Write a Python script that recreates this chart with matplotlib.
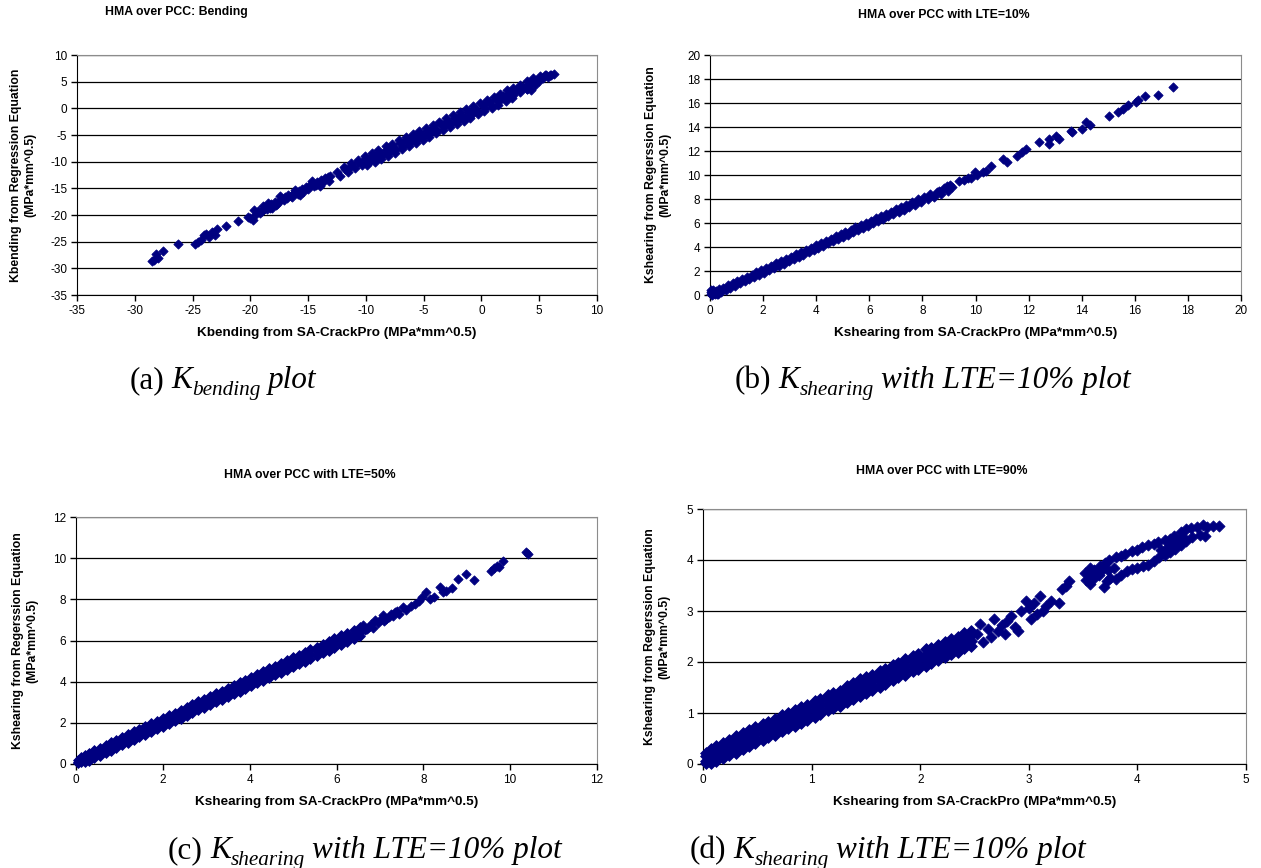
import matplotlib
matplotlib.use("Agg")
import matplotlib.pyplot as plt
import numpy as np

# values (regression vs SA-CrackPro)

# (a) bending
a_sparse_x = [-28.5, -28.3, -28.2, -28.0, -27.6, -26.3, -24.8, -24.5, -24.3, -24.0, -23.8, -23.6, -23.3, -23.1, -22.9,
              -22.1, -21.1, -20.2, -20.0, -19.8, -19.7, -19.5, -19.3, -19.2, -19.0, -18.9, -18.8, -18.6, -18.5, -18.3,
              -18.2, -18.1, -17.9, -17.8, -17.7, -17.6, -17.4, -17.3, -17.1, -17.0, -16.8, -16.7, -16.5, -16.4, -16.2,
              -16.1, -15.9, -15.8, -15.7, -15.5, -15.4, -15.2, -15.0, -14.9, -14.7, -14.6, -14.5, -14.3, -14.2, -14.0,
              -13.9, -13.8, -13.6, -13.5, -13.3, -13.2, 3.9, 4.3, 4.5, 5.0, 5.5, 5.8, 6.0]
a_sparse_y = [-28.7, -28.4, -27.3, -28.1, -26.8, -25.4, -25.4, -25.0, -24.7, -23.7, -23.5, -24.1, -23.2, -23.8, -22.6,
              -22.0, -21.2, -20.3, -20.6, -20.9, -19.0, -19.8, -19.3, -19.7, -19.3, -18.4, -18.9, -18.9, -17.8, -18.6,
              -17.9, -18.7, -17.6, -18.1, -18.0, -17.5, -16.5, -17.0, -17.2, -16.6, -16.9, -16.3, -16.4, -16.7, -15.8,
              -15.3, -16.1, -15.5, -16.2, -15.1, -15.6, -14.7, -15.2, -14.6, -13.7, -14.1, -14.6, -14.3, -13.8, -14.5,
              -13.4, -14.0, -13.5, -13.1, -12.8, -13.6, 3.6, 3.5, 5.4, 5.2, 6.2, 5.9, 6.2]
a_mid_x = [-13.1, -12.5, -11.85, -11.3, -10.65, -10.05, -9.45, -8.9, -8.25, -7.7, -7.05, -6.5, -5.9, -5.3, -4.7,
           -4.15, -3.5, -2.95, -2.3, -1.75, -1.1, -0.55, 0.1, 0.65, 1.25, 1.85, 2.4, 3.0, 3.6, 4.15, 4.8, 5.35, 5.9, 6.25]
a_mid_y = [-12.7, -12.0, -11.4, -10.8, -10.1, -9.55, -8.9, -8.4, -7.75, -7.2, -6.55, -6.0, -5.4, -4.8, -4.2,
           -3.65, -3.0, -2.45, -1.8, -1.25, -0.6, -0.05, 0.6, 1.15, 1.7, 2.3, 2.85, 3.45, 4.0, 4.5, 5.2, 5.75, 6.2, 6.4]
a_up_x = [-11.9, -11.3, -10.7, -10.1, -9.5, -8.95, -8.3, -7.75, -7.15, -6.55, -5.95, -5.4, -4.8, -4.2, -3.65,
          -3.05, -2.45, -1.85, -1.3, -0.7, -0.1, 0.45, 1.05, 1.6, 2.2, 2.75, 3.3, 3.9, 4.5, 5.1, 5.6]
a_up_y = [-11.0, -10.3, -9.6, -9.0, -8.4, -7.85, -7.15, -6.6, -6.0, -5.4, -4.8, -4.25, -3.65, -3.05, -2.5,
          -1.9, -1.3, -0.7, -0.15, 0.45, 1.05, 1.6, 2.2, 2.75, 3.35, 3.9, 4.45, 5.05, 5.6, 6.1, 6.3]
a_lo_x = [-12.2, -11.55, -10.95, -10.35, -9.75, -9.2, -8.6, -8.0, -7.4, -6.8, -6.2, -5.6, -5.05, -4.45, -3.85,
          -3.25, -2.65, -2.05, -1.45, -0.85, -0.3, 0.3, 0.9, 1.5, 2.1, 2.7, 3.3, 3.9, 4.6]
a_lo_y = [-12.6, -11.9, -11.2, -10.6, -10.0, -9.4, -8.8, -8.2, -7.6, -7.0, -6.35, -5.75, -5.2, -4.6, -4.0,
          -3.4, -2.8, -2.2, -1.6, -1.0, -0.45, 0.15, 0.7, 1.3, 1.9, 2.5, 3.05, 3.6, 4.3]
a_bot_x = [-9.9, -9.25, -8.7, -8.05, -7.5, -6.85, -6.3, -5.7, -5.1, -4.55, -3.9, -3.35, -2.7, -2.15, -1.5,
           -0.95, -0.3, 0.25, 0.9, 1.45, 2.1, 2.65]
a_bot_y = [-10.6, -10.0, -9.5, -8.85, -8.3, -7.65, -7.1, -6.5, -5.9, -5.35, -4.7, -4.15, -3.5, -2.95, -2.3,
           -1.75, -1.1, -0.55, 0.1, 0.65, 1.3, 1.85]

# (b) LTE = 10%
b_up_x = [0.03, 0.12, 0.22, 0.35, 0.5, 0.68, 0.85, 1.02, 1.2, 1.38, 1.57, 1.75, 1.93, 2.12, 2.3, 2.5, 2.68,
          2.87, 3.05, 3.24, 3.42, 3.61, 3.8, 3.98, 4.17, 4.36, 4.55, 4.73, 4.92, 5.1, 5.3, 5.48, 5.67, 5.86,
          6.05, 6.24, 6.43, 6.62, 6.8, 7.0, 7.2, 7.4, 7.62, 7.85, 8.05, 8.3, 8.55, 8.8, 9.05]
b_up_y = [0.25, 0.38, 0.33, 0.52, 0.62, 0.8, 0.98, 1.15, 1.33, 1.52, 1.7, 1.88, 2.06, 2.26, 2.44, 2.64, 2.82,
          3.0, 3.2, 3.38, 3.57, 3.76, 3.94, 4.13, 4.32, 4.5, 4.7, 4.88, 5.07, 5.25, 5.45, 5.63, 5.82, 6.0,
          6.2, 6.38, 6.57, 6.77, 6.95, 7.14, 7.32, 7.52, 7.74, 7.98, 8.2, 8.42, 8.62, 8.9, 9.2]
b_lo_x = [0.08, 0.18, 0.3, 0.42, 0.6, 0.77, 0.95, 1.12, 1.3, 1.48, 1.66, 1.85, 2.03, 2.22, 2.4, 2.6, 2.78,
          2.97, 3.15, 3.34, 3.52, 3.71, 3.9, 4.08, 4.27, 4.46, 4.65, 4.83, 5.02, 5.2, 5.4, 5.58, 5.77, 5.96,
          6.15, 6.34, 6.53, 6.72, 6.9, 7.1, 7.3, 7.5, 7.72, 7.95, 8.2, 8.45, 8.7, 8.95]
b_lo_y = [0.02, 0.05, 0.1, 0.25, 0.42, 0.6, 0.78, 0.96, 1.14, 1.32, 1.5, 1.68, 1.87, 2.05, 2.24, 2.43, 2.62,
          2.8, 3.0, 3.18, 3.36, 3.55, 3.74, 3.92, 4.1, 4.3, 4.48, 4.67, 4.86, 5.04, 5.23, 5.42, 5.6, 5.79,
          5.98, 6.17, 6.36, 6.55, 6.74, 6.93, 7.12, 7.3, 7.5, 7.72, 7.98, 8.2, 8.45, 8.7]
b_sparse_x = [0.02, 0.05, 0.15, 0.25, 8.62, 8.92, 9.37, 9.82, 9.97, 10.27, 10.57, 11.02, 11.17, 11.55, 11.77,
              11.92, 12.38, 12.75, 12.75, 13.05, 13.13, 13.58, 13.65, 14.03, 14.18, 14.33, 15.04, 15.38, 15.56,
              15.76, 16.03, 16.13, 16.39, 16.86, 17.44, 9.1, 9.55, 9.7, 10.05, 10.4]
b_sparse_y = [0.1, 0.4, 0.2, 0.05, 8.67, 9.09, 9.51, 9.79, 10.21, 10.21, 10.77, 11.33, 11.05, 11.61, 11.89,
              12.17, 12.73, 12.59, 13.0, 13.29, 13.0, 13.7, 13.57, 13.85, 14.41, 14.13, 14.91, 15.24, 15.52,
              15.86, 16.08, 16.22, 16.56, 16.64, 17.34, 9.0, 9.6, 9.75, 10.0, 10.3]

# (c) LTE = 50%
c_core_x = [0.05, 0.12, 0.2, 0.3, 0.42, 0.55, 0.68, 0.8, 0.93, 1.06, 1.2, 1.33, 1.46, 1.6, 1.73, 1.87, 2.0,
            2.14, 2.27, 2.41, 2.55, 2.68, 2.82, 2.95, 3.09, 3.22, 3.36, 3.5, 3.63, 3.77, 3.9, 4.04, 4.18, 4.31,
            4.45, 4.58, 4.72, 4.86, 5.0, 5.13, 5.27, 5.4, 5.54, 5.68, 5.82, 5.95, 6.1, 6.25, 6.4, 6.55]
c_up_y = [0.2, 0.35, 0.45, 0.55, 0.68, 0.8, 0.93, 1.05, 1.18, 1.31, 1.45, 1.58, 1.7, 1.84, 1.97, 2.1, 2.24,
          2.37, 2.5, 2.64, 2.78, 2.9, 3.04, 3.17, 3.3, 3.44, 3.57, 3.71, 3.84, 3.98, 4.1, 4.24, 4.38, 4.5,
          4.64, 4.77, 4.9, 5.04, 5.18, 5.3, 5.44, 5.57, 5.7, 5.84, 5.97, 6.1, 6.25, 6.38, 6.52, 6.66]
c_mid_y = [0.12, 0.2, 0.28, 0.35, 0.48, 0.6, 0.72, 0.85, 0.97, 1.1, 1.24, 1.37, 1.5, 1.63, 1.76, 1.89, 2.02,
           2.15, 2.29, 2.42, 2.56, 2.69, 2.82, 2.95, 3.08, 3.22, 3.35, 3.48, 3.61, 3.75, 3.88, 4.01, 4.15, 4.28,
           4.41, 4.54, 4.67, 4.81, 4.94, 5.07, 5.2, 5.34, 5.47, 5.6, 5.73, 5.87, 6.01, 6.15, 6.28, 6.43]
c_lo_y = [0.05, 0.08, 0.1, 0.15, 0.28, 0.4, 0.52, 0.64, 0.77, 0.9, 1.03, 1.16, 1.29, 1.42, 1.55, 1.68, 1.81,
          1.94, 2.07, 2.2, 2.34, 2.47, 2.6, 2.73, 2.86, 2.99, 3.12, 3.26, 3.39, 3.52, 3.65, 3.78, 3.92, 4.05,
          4.18, 4.31, 4.44, 4.58, 4.71, 4.84, 4.97, 5.1, 5.24, 5.37, 5.5, 5.63, 5.77, 5.92, 6.05, 6.2]
c_sparse_x = [6.62, 6.7, 6.8, 6.89, 6.95, 7.07, 7.15, 7.25, 7.35, 7.45, 7.53, 7.6, 7.71, 7.8, 7.9, 7.98, 8.07,
              8.15, 8.25, 8.39, 8.45, 8.53, 8.65, 8.8, 8.98, 9.16, 9.57, 9.62, 9.7, 9.75, 9.84, 10.37, 10.42,
              6.65, 6.75, 6.85, 7.0, 7.1, 7.2, 7.3, 7.4]
c_sparse_y = [6.74, 6.55, 6.8, 6.98, 6.85, 7.22, 7.05, 7.3, 7.38, 7.3, 7.62, 7.5, 7.7, 7.75, 7.9, 8.1, 8.34,
              8.0, 8.1, 8.58, 8.35, 8.42, 8.55, 8.98, 9.23, 8.94, 9.39, 9.5, 9.63, 9.55, 9.87, 10.3, 10.22,
              6.5, 6.68, 6.62, 7.0, 6.95, 7.15, 7.2, 7.45]

# (d) LTE = 90%
d_core_x = [0.03, 0.07, 0.12, 0.18, 0.24, 0.3, 0.37, 0.42, 0.48, 0.55, 0.6, 0.66, 0.73, 0.78, 0.85, 0.9, 0.96,
            1.03, 1.08, 1.15, 1.2, 1.26, 1.33, 1.38, 1.45, 1.5, 1.56, 1.63, 1.68, 1.75, 1.8, 1.86, 1.93, 1.98,
            2.05, 2.1, 2.16, 2.23, 2.28, 2.35, 2.4, 2.47]
d_row1_y = [0.22, 0.3, 0.36, 0.42, 0.47, 0.54, 0.6, 0.66, 0.72, 0.78, 0.83, 0.88, 0.96, 1.0, 1.06, 1.12, 1.16,
            1.24, 1.28, 1.36, 1.4, 1.44, 1.53, 1.58, 1.66, 1.7, 1.74, 1.82, 1.87, 1.94, 1.98, 2.05, 2.11, 2.16,
            2.25, 2.27, 2.33, 2.4, 2.45, 2.5, 2.56, 2.6]
d_row2_y = [0.15, 0.2, 0.25, 0.32, 0.38, 0.43, 0.5, 0.55, 0.61, 0.68, 0.72, 0.78, 0.85, 0.9, 0.96, 1.01, 1.06,
            1.13, 1.18, 1.25, 1.3, 1.35, 1.42, 1.47, 1.54, 1.59, 1.65, 1.72, 1.77, 1.85, 1.89, 1.95, 2.02, 2.07,
            2.14, 2.18, 2.24, 2.3, 2.35, 2.41, 2.46, 2.52]
d_row3_y = [0.05, 0.09, 0.15, 0.22, 0.28, 0.33, 0.4, 0.45, 0.51, 0.58, 0.62, 0.68, 0.75, 0.8, 0.86, 0.91, 0.96,
            1.03, 1.08, 1.15, 1.2, 1.25, 1.32, 1.37, 1.44, 1.49, 1.55, 1.62, 1.67, 1.75, 1.79, 1.85, 1.92, 1.97,
            2.04, 2.08, 2.14, 2.2, 2.25, 2.31, 2.36, 2.42]
d_row4_y = [0.02, 0.02, 0.05, 0.12, 0.18, 0.22, 0.3, 0.36, 0.41, 0.47, 0.53, 0.57, 0.64, 0.7, 0.75, 0.8, 0.87,
            0.92, 0.98, 1.05, 1.1, 1.14, 1.22, 1.27, 1.33, 1.4, 1.45, 1.51, 1.57, 1.64, 1.7, 1.74, 1.82, 1.87,
            1.93, 1.99, 2.03, 2.1, 2.15, 2.2, 2.27, 2.32]
d_sparse_x = [2.52, 2.55, 2.58, 2.62, 2.65, 2.68, 2.72, 2.75, 2.78, 2.8, 2.84, 2.87, 2.9, 2.93, 2.97, 3.0, 3.02,
              3.05, 3.08, 3.1, 3.13, 3.16, 3.2, 3.28, 3.31, 3.34, 3.37]
d_sparse_y = [2.55, 2.75, 2.4, 2.65, 2.5, 2.85, 2.6, 2.72, 2.55, 2.8, 2.9, 2.68, 2.6, 3.0, 3.2, 3.05, 2.85,
              3.15, 2.95, 3.3, 3.0, 3.1, 3.2, 3.15, 3.44, 3.5, 3.58]
d_upper_x = [3.52, 3.56, 3.6, 3.66, 3.7, 3.74, 3.8, 3.85, 3.89, 3.95, 4.0, 4.04, 4.1, 4.15, 4.19, 4.25, 4.3,
             4.34, 4.4, 4.45, 4.49, 4.55, 4.6, 4.64, 4.7, 4.75]
d_upper_y = [3.75, 3.85, 3.8, 3.88, 3.95, 4.0, 4.05, 4.08, 4.12, 4.17, 4.2, 4.25, 4.3, 4.32, 4.35, 4.4, 4.42,
             4.48, 4.55, 4.6, 4.62, 4.65, 4.68, 4.64, 4.67, 4.66]
d_lower_x = [3.53, 3.56, 3.6, 3.65, 3.69, 3.72, 3.75, 3.8, 3.85, 3.9, 3.95, 4.0, 4.05, 4.1, 4.15, 4.2, 4.25,
             4.3, 4.35, 4.4, 4.45, 4.5, 4.58, 4.62, 3.58, 3.63, 3.68, 3.73, 3.78, 4.22, 4.28, 4.33, 4.38, 4.42]
d_lower_y = [3.6, 3.52, 3.65, 3.7, 3.48, 3.58, 3.65, 3.62, 3.7, 3.78, 3.82, 3.85, 3.88, 3.9, 3.98, 4.05, 4.1,
             4.15, 4.22, 4.3, 4.38, 4.45, 4.5, 4.48, 3.68, 3.78, 3.82, 3.8, 3.85, 4.2, 4.25, 4.3, 4.38, 4.45]

plt.rcParams['font.family'] = ['Liberation Sans', 'DejaVu Sans']
plt.rcParams['axes.unicode_minus'] = False

W, H = 1261, 868
fig = plt.figure(figsize=(W / 100, H / 100), dpi=100)
NAVY = '#000080'


def panel(box, lim_x, lim_y, step, title, title_xy, xlabel, ylabel, ylabel_x):
    l, r, t, b = box
    ax = fig.add_axes([l / W, 1 - b / H, (r - l) / W, (b - t) / H])
    ax.set_xlim(lim_x)
    ax.set_ylim(lim_y)
    ax.set_xticks(np.arange(lim_x[0], lim_x[1] + step / 2, step))
    ax.set_yticks(np.arange(lim_y[0], lim_y[1] + step / 2, step))
    ax.yaxis.grid(True, color='black', linewidth=0.9)
    ax.set_axisbelow(True)
    for s in ['top', 'right']:
        ax.spines[s].set_color('#8c8c8c')
    for s in ['left', 'bottom']:
        ax.spines[s].set_color('black')
    ax.tick_params(direction='out', length=4, width=1, labelsize=8.5, pad=3)
    fig.text(title_xy[0] / W, 1 - title_xy[1] / H, title, ha='center', va='center',
             fontsize=8.8, fontweight='bold')
    fig.text((l + r) / 2 / W, 1 - (b + 38) / H, xlabel, ha='center', va='center',
             fontsize=9.7, fontweight='bold')
    fig.text(ylabel_x / W, 1 - (t + b) / 2 / H, ylabel, ha='center', va='center', rotation=90,
             multialignment='center', fontsize=8.8, fontweight='bold', linespacing=1.2)
    return ax


def dots(ax, x, y, size=22):
    ax.scatter(x, y, marker='D', s=size, color=NAVY, edgecolors=NAVY, linewidths=0.6,
               zorder=3, clip_on=False)


unit = '(MPa*mm^0.5)'
ax_a = panel((77, 597, 55, 295), (-35, 10), (-35, 10), 5, 'HMA over PCC: Bending', (176, 12),
             'Kbending from SA-CrackPro ' + unit, 'Kbending from Regression Equation\n' + unit, 23)
ax_b = panel((710, 1241, 55, 295), (0, 20), (0, 20), 2, 'HMA over PCC with LTE=10%', (944, 15),
             'Kshearing from SA-CrackPro ' + unit, 'Kshearing from Regerssion Equation\n' + unit, 658)
ax_c = panel((76, 597, 517, 764), (0, 12), (0, 12), 2, 'HMA over PCC with LTE=50%', (310, 475),
             'Kshearing from SA-CrackPro ' + unit, 'Kshearing from Regerssion Equation\n' + unit, 25)
ax_d = panel((703, 1246, 509, 764), (0, 5), (0, 5), 1, 'HMA over PCC with LTE=90%', (942, 471),
             'Kshearing from SA-CrackPro ' + unit, 'Kshearing from Regerssion Equation\n' + unit, 657)

dots(ax_a, a_sparse_x, a_sparse_y)
dots(ax_a, a_mid_x, a_mid_y)
dots(ax_a, a_up_x, a_up_y)
dots(ax_a, a_lo_x, a_lo_y)
dots(ax_a, a_bot_x, a_bot_y)

dots(ax_b, b_up_x, b_up_y)
dots(ax_b, b_lo_x, b_lo_y)
dots(ax_b, b_sparse_x, b_sparse_y)

for row in [c_up_y, c_mid_y, c_lo_y]:
    dots(ax_c, c_core_x, row, 25)
dots(ax_c, c_sparse_x, c_sparse_y)

for row in [d_row1_y, d_row2_y, d_row3_y, d_row4_y]:
    dots(ax_d, d_core_x, row, 36)
dots(ax_d, d_sparse_x, d_sparse_y, 32)
dots(ax_d, d_upper_x, d_upper_y, 32)
dots(ax_d, d_lower_x, d_lower_y, 32)

# captions under each chart: "(a) K_bending plot" etc, built piece by piece
renderer = fig.canvas.get_renderer()
CAP = 22.5


def caption(x0, base, tag, sub, rest):
    pieces = [(tag, CAP, 'normal', 0, 0), ('K', CAP, 'italic', 0, 7), (sub, CAP * 0.68, 'italic', 7, 0),
              (rest, CAP, 'italic', 0, 7)]
    x = x0
    for txt, size, style, drop, gap in pieces:
        x += gap
        t = fig.text(x / W, 1 - (base + drop) / H, txt, fontsize=size, fontstyle=style,
                     family='Liberation Serif', ha='left', va='baseline')
        x = t.get_window_extent(renderer).x1


caption(130, 388, '(a)', 'bending', 'plot')
caption(735, 388, '(b)', 'shearing', 'with LTE=10% plot')
caption(168, 858, '(c)', 'shearing', 'with LTE=10% plot')
caption(690, 858, '(d)', 'shearing', 'with LTE=10% plot')

fig.savefig('out.png', dpi=100)
